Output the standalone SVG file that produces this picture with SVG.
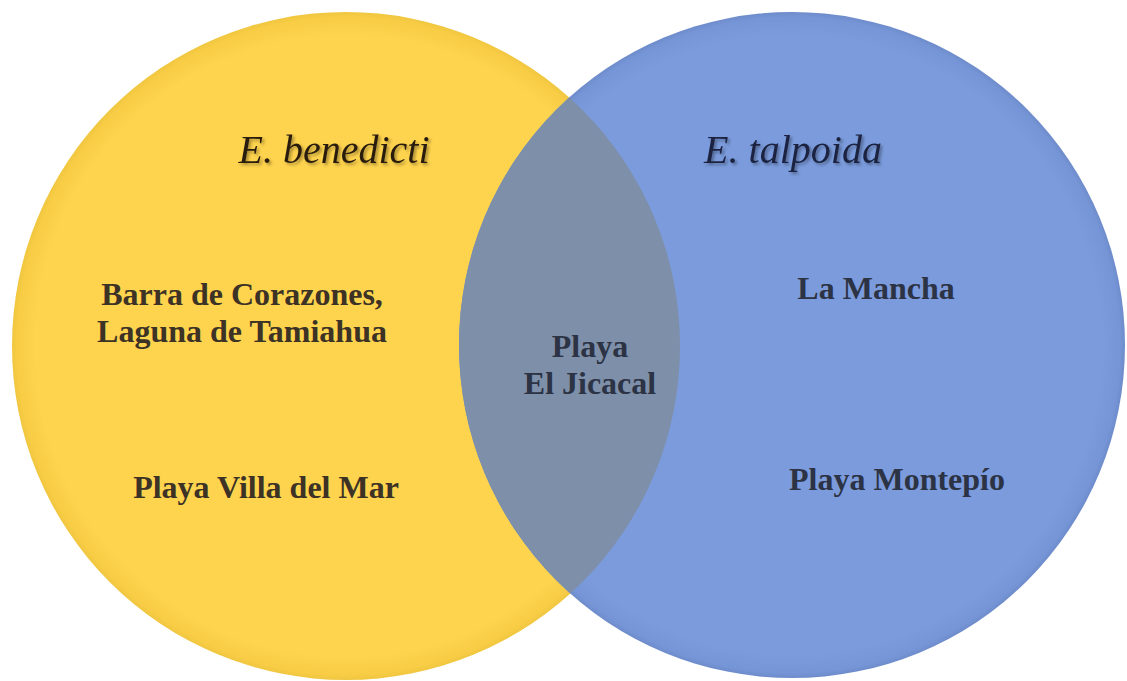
<svg xmlns="http://www.w3.org/2000/svg" width="1127" height="681" viewBox="0 0 1127 681">
<defs>
<style>
.lbl{font-family:"Liberation Serif","Times New Roman",serif;font-weight:bold;font-size:32px;text-anchor:middle}
.ttl{font-family:"Liberation Serif","Times New Roman",serif;font-style:italic;font-size:40px;text-anchor:middle}
</style>
<clipPath id="clipL"><circle cx="346" cy="346" r="334"/></clipPath>
<radialGradient id="gY" cx="0.5" cy="0.5" r="0.5">
<stop offset="0.93" stop-color="#FED34D"/>
<stop offset="0.985" stop-color="#F8CC45"/>
<stop offset="1" stop-color="#F0C640"/>
</radialGradient>
<radialGradient id="gB" cx="0.5" cy="0.5" r="0.5">
<stop offset="0.93" stop-color="#7B9BDC"/>
<stop offset="0.985" stop-color="#7695D6"/>
<stop offset="1" stop-color="#6E8CCB"/>
</radialGradient>
<filter id="sh" x="-10%" y="-20%" width="120%" height="150%">
<feDropShadow dx="2" dy="2" stdDeviation="1.5" flood-color="#000" flood-opacity="0.35"/>
</filter>
</defs>
<rect width="1127" height="681" fill="#FFFFFF"/>
<g id="set-benedicti">
<circle cx="346" cy="346" r="334" fill="url(#gY)"/>
</g>
<g id="set-talpoida">
<circle cx="792" cy="345" r="333" fill="url(#gB)"/>
</g>
<g id="overlap">
<circle cx="792" cy="345" r="333" fill="#7E8FA9" clip-path="url(#clipL)"/>
</g>
<g id="connectors"></g>
<g id="title-benedicti"><text class="ttl" x="334" y="163" fill="#2A1E10" filter="url(#sh)">E. benedicti</text></g>
<g id="title-talpoida"><text class="ttl" x="793" y="163" fill="#1A2440" filter="url(#sh)">E. talpoida</text></g>
<g id="node-barra"><text class="lbl" fill="#3C3225"><tspan x="242" y="305">Barra de Corazones,</tspan><tspan x="242" y="342">Laguna de Tamiahua</tspan></text></g>
<g id="node-villa"><text class="lbl" x="266" y="498" fill="#3C3225">Playa Villa del Mar</text></g>
<g id="node-jicacal"><text class="lbl" fill="#2C3344"><tspan x="590" y="357">Playa</tspan><tspan x="590" y="394">El Jicacal</tspan></text></g>
<g id="node-mancha"><text class="lbl" x="876" y="299" fill="#2C3344">La Mancha</text></g>
<g id="node-montepio"><text class="lbl" x="897" y="490" fill="#2C3344">Playa Montepío</text></g>
</svg>
